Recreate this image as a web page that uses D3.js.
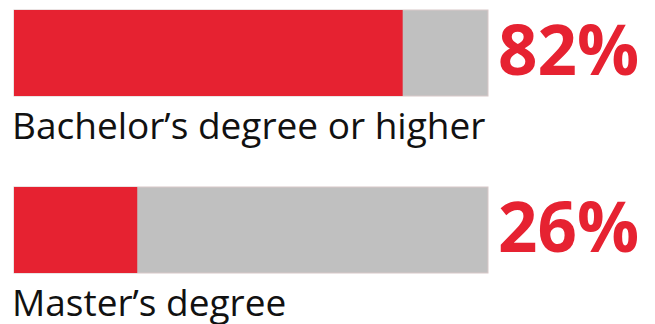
<!DOCTYPE html>
<html>
<head>
<meta charset="utf-8">
<script src="https://cdn.jsdelivr.net/npm/d3@7"></script>
<style>
    body { margin: 0; background: #fff; }
    svg { display: block; }
</style>
</head>
<body>
<div id="chart"></div>
<script>
// data
var categories = ["Bachelor\u2019s degree or higher", "Master\u2019s degree"];
var percents = [82, 26];

var svgWidth = 655;
var svgHeight = 324;

var svg = d3.select("#chart")
    .append("svg")
    .attr("width", svgWidth)
    .attr("height", svgHeight);

var xScale = d3.scaleLinear()
    .domain([0, 100])
    .range([14, 488]);

var yScale = d3.scaleBand()
    .domain(categories)
    .range([10, 273])
    .paddingInner(91 / 177)
    .paddingOuter(0);

var rows = categories.map(function(c, i) {
    return { label: c, value: percents[i] };
});

var groups = svg.selectAll(".row")
    .data(rows)
    .enter()
    .append("g")
    .attr("class", "row");

// gray track
groups.append("rect")
    .attr("x", xScale(0))
    .attr("y", d => yScale(d.label))
    .attr("width", xScale(100) - xScale(0))
    .attr("height", yScale.bandwidth())
    .attr("fill", "#c0c0c0")
    .attr("stroke", "#d8c8c8")
    .attr("stroke-width", 1);

// red part
groups.append("rect")
    .attr("x", xScale(0))
    .attr("y", d => yScale(d.label))
    .attr("width", d => xScale(d.value) - xScale(0))
    .attr("height", yScale.bandwidth())
    .attr("fill", "#e62231");

// big percent
groups.append("text")
    .attr("x", xScale(100) + 10)
    .attr("y", d => yScale(d.label) + yScale.bandwidth() / 2 + 22)
    .attr("font-family", "Open Sans")
    .attr("font-weight", 700)
    .attr("font-size", 69)
    .attr("fill", "#e62231")
    .text(d => d.value + "%");

// label below
groups.append("text")
    .attr("x", 12)
    .attr("y", d => yScale(d.label) + yScale.bandwidth() + 43)
    .attr("font-family", "Open Sans")
    .attr("font-size", 37)
    .attr("fill", "#111")
    .text(d => d.label);
</script>
</body>
</html>
